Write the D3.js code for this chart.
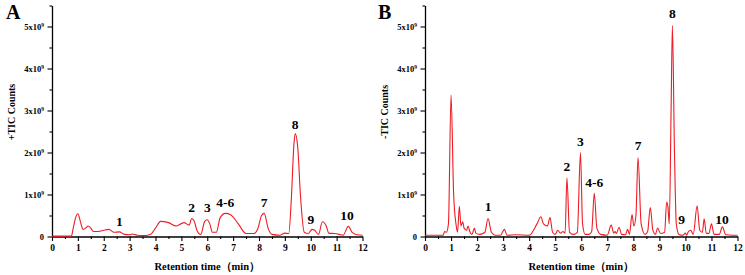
<!DOCTYPE html>
<html>
<head>
<meta charset="utf-8">
<script src="https://cdn.jsdelivr.net/npm/d3@7"></script>
<style>
  body { margin: 0; background: #fff; }
  text { font-family: "Liberation Serif", "Times New Roman", serif; font-weight: bold; }
</style>
</head>
<body>
<div id="main"></div>
<script>
const W = 745, H = 275;

// retention time (min) and counts (x10^9), positive mode
const posTime  = [0, 0.75, 0.82, 0.9, 1.0, 1.1, 1.2, 1.3, 1.4, 1.5, 1.6, 1.8, 2.0, 2.2, 2.4, 2.6, 2.8, 3.0, 3.1, 3.3, 3.5, 3.8, 4.0, 4.2, 4.5, 4.8, 5.1, 5.3, 5.4, 5.5, 5.6, 5.75, 5.9, 6.0, 6.1, 6.2, 6.35, 6.5, 6.7, 6.9, 7.2, 7.5, 7.8, 7.95, 8.1, 8.2, 8.35, 8.5, 8.8, 9.0, 9.15, 9.25, 9.35, 9.4, 9.5, 9.6, 9.75, 9.9, 10.05, 10.15, 10.3, 10.45, 10.6, 10.7, 10.9, 11.1, 11.25, 11.45, 11.6, 11.8, 12];
const posValue = [0.01, 0.01, 0.2, 0.42, 0.54, 0.35, 0.17, 0.2, 0.25, 0.2, 0.12, 0.12, 0.15, 0.17, 0.1, 0.11, 0.05, 0.04, 0.06, 0.03, 0.02, 0.05, 0.2, 0.36, 0.33, 0.25, 0.33, 0.27, 0.43, 0.36, 0.15, 0.05, 0.36, 0.4, 0.3, 0.1, 0.1, 0.45, 0.55, 0.52, 0.3, 0.07, 0.07, 0.18, 0.5, 0.55, 0.2, 0.05, 0.03, 0.08, 0.07, 0.9, 2.2, 2.45, 2.1, 1.0, 0.1, 0.07, 0.17, 0.15, 0.05, 0.35, 0.25, 0.08, 0.07, 0.05, 0.03, 0.24, 0.1, 0.04, 0.03];

// negative mode
const negTime  = [0, 0.7, 0.75, 0.82, 0.9, 1.0, 1.1, 1.2, 1.25, 1.32, 1.38, 1.45, 1.5, 1.6, 1.65, 1.72, 1.8, 1.9, 1.95, 2.1, 2.3, 2.42, 2.55, 2.7, 2.9, 3.05, 3.15, 3.5, 4.0, 4.3, 4.45, 4.55, 4.7, 4.8, 4.9, 5.0, 5.1, 5.2, 5.3, 5.38, 5.45, 5.55, 5.7, 5.85, 5.97, 6.05, 6.15, 6.3, 6.4, 6.5, 6.6, 6.75, 7.0, 7.15, 7.25, 7.3, 7.35, 7.45, 7.55, 7.7, 7.78, 7.85, 7.95, 8.02, 8.1, 8.18, 8.3, 8.45, 8.55, 8.65, 8.75, 8.85, 8.93, 9.05, 9.2, 9.28, 9.33, 9.38, 9.45, 9.5, 9.58, 9.65, 9.75, 9.9, 10.0, 10.05, 10.1, 10.2, 10.3, 10.45, 10.55, 10.65, 10.72, 10.8, 10.9, 11.0, 11.1, 11.3, 11.42, 11.55, 11.8, 12];
const negValue = [0.03, 0.03, 0.12, 0.1, 0.3, 3.37, 1.0, 0.25, 0.1, 0.72, 0.25, 0.35, 0.2, 0.15, 0.25, 0.12, 0.05, 0.2, 0.08, 0.05, 0.1, 0.43, 0.1, 0.03, 0.03, 0.17, 0.03, 0.04, 0.03, 0.3, 0.47, 0.3, 0.25, 0.45, 0.1, 0.05, 0.15, 0.08, 0.12, 0.08, 1.4, 0.1, 0.05, 0.1, 2.0, 0.3, 0.05, 0.05, 0.12, 1.03, 0.2, 0.05, 0.03, 0.27, 0.08, 0.12, 0.07, 0.22, 0.05, 0.04, 0.17, 0.05, 0.52, 0.25, 0.5, 1.88, 0.3, 0.05, 0.12, 0.69, 0.15, 0.05, 0.2, 0.07, 0.1, 0.82, 0.7, 0.3, 3.0, 5.02, 2.0, 0.3, 0.05, 0.03, 0.08, 0.03, 0.1, 0.15, 0.05, 0.73, 0.15, 0.1, 0.42, 0.08, 0.07, 0.3, 0.05, 0.05, 0.23, 0.04, 0.03, 0.03];

// peak labels: text, time, height (x10^9)
const posLabels = ["1", "2", "3", "4-6", "7", "8", "9", "10"];
const posLabelTime = [2.6, 5.4, 6.0, 6.7, 8.2, 9.4, 10.0, 11.4];
const posLabelValue = [0.26, 0.58, 0.58, 0.7, 0.7, 2.55, 0.3, 0.4];

const negLabels = ["1", "2", "3", "4-6", "7", "8", "9", "10"];
const negLabelTime = [2.42, 5.45, 5.97, 6.5, 8.18, 9.5, 9.85, 11.4];
const negLabelValue = [0.6, 1.55, 2.15, 1.18, 2.05, 5.2, 0.3, 0.3];

const xTicks = d3.range(0, 13, 1);
const yTicks = [0, 1, 2, 3, 4, 5];

const svg = d3.select('#main')
              .append('svg')
              .attr('width', W)
              .attr('height', H);

function drawPanel(opt) {
  const x = d3.scaleLinear().domain([0, 12]).range([opt.left, opt.right]);
  const y = d3.scaleLinear().domain([0, 5.5]).range([236.5, 5.5]);
  const g = svg.append('g');

  // minor ticks
  g.append('g')
   .attr('transform', 'translate(0,' + y(0) + ')')
   .call(d3.axisBottom(x).tickValues(d3.range(0.5, 12, 1)).tickSize(2.5).tickFormat(''))
   .call(a => a.select('.domain').remove());
  g.append('g')
   .attr('transform', 'translate(' + x(0) + ',0)')
   .call(d3.axisLeft(y).tickValues(d3.range(0.5, 5.6, 1)).tickSize(2.5).tickFormat(''))
   .call(a => a.select('.domain').remove());

  // major axes
  const xAxis = g.append('g')
   .attr('transform', 'translate(0,' + y(0) + ')')
   .call(d3.axisBottom(x).tickValues(xTicks).tickSize(4.5).tickSizeOuter(0).tickPadding(3).tickFormat(d3.format('d')));
  xAxis.selectAll('text').attr('font-size', 9.5).attr('fill', '#000');

  const yAxis = g.append('g')
   .attr('transform', 'translate(' + x(0) + ',0)')
   .call(d3.axisLeft(y).tickValues(yTicks).tickSize(4.5).tickSizeOuter(0).tickPadding(3).tickFormat(''));
  yAxis.selectAll('.tick').append('text')
       .attr('x', -8)
       .attr('dy', '0.32em')
       .attr('text-anchor', 'end')
       .attr('font-size', 8.5)
       .attr('fill', '#000')
       .each(function(d) {
         const t = d3.select(this);
         if (d === 0) { t.text('0'); return; }
         t.append('tspan').text(d + 'x10');
         t.append('tspan').attr('font-size', 5.5).attr('dy', '-0.55em').text('9');
       });
  g.selectAll('.domain').attr('stroke-width', 1.3);
  g.selectAll('.tick line').attr('stroke-width', 1.1);

  // trace
  const line = d3.line()
                 .x((d, i) => x(opt.time[i]))
                 .y(d => y(d))
                 .curve(d3.curveMonotoneX);
  g.append('path')
   .datum(opt.value)
   .attr('fill', 'none')
   .attr('stroke', '#ee1c25')
   .attr('stroke-width', 1.1)
   .attr('d', line);

  // peak labels
  g.selectAll('.peak')
   .data(opt.labels)
   .enter()
   .append('text')
   .attr('class', 'peak')
   .attr('x', (d, i) => x(opt.labelTime[i]))
   .attr('y', (d, i) => y(opt.labelValue[i]))
   .attr('text-anchor', 'middle')
   .attr('font-size', 13.5)
   .text(d => d);

  // titles
  g.append('text')
   .attr('x', opt.letterX)
   .attr('y', 19)
   .attr('font-size', 20)
   .text(opt.letter);

  g.append('text')
   .attr('transform', 'translate(' + (opt.left - 37) + ',112) rotate(-90)')
   .attr('text-anchor', 'middle')
   .attr('font-size', 10)
   .text(opt.yLabel);

  g.append('text')
   .attr('x', (opt.left + opt.right) / 2)
   .attr('y', 270)
   .attr('text-anchor', 'middle')
   .attr('font-size', 10.5)
   .text('Retention time（min）');
}

drawPanel({left: 52, right: 362.5, time: posTime, value: posValue,
           labels: posLabels, labelTime: posLabelTime, labelValue: posLabelValue,
           letter: 'A', letterX: 6, yLabel: '+TIC Counts'});
drawPanel({left: 425, right: 737.5, time: negTime, value: negValue,
           labels: negLabels, labelTime: negLabelTime, labelValue: negLabelValue,
           letter: 'B', letterX: 378, yLabel: '-TIC Counts'});
</script>
</body>
</html>
